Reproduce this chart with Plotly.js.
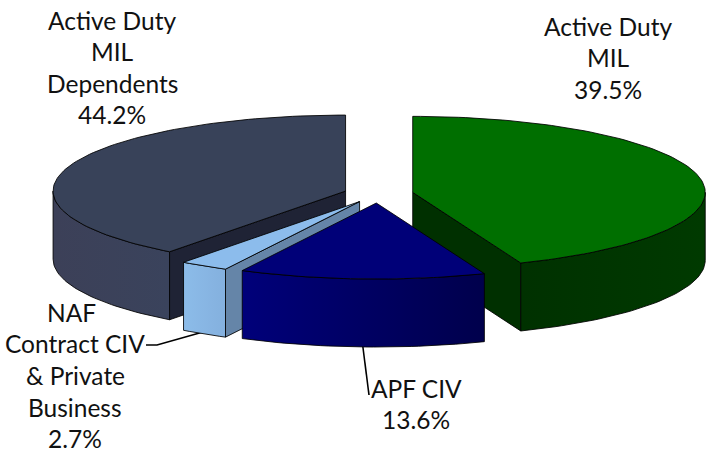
<!DOCTYPE html>
<html>
<head>
<meta charset="utf-8">
<script src="https://cdn.plot.ly/plotly-3.0.1.min.js"></script>
<style>html,body{margin:0;padding:0;background:#fff}</style>
</head>
<body>
<div id="chart" style="width:706px;height:452px"></div>
<script>
var sliceNames = ["green", "navy", "naf", "dependents"];
var sliceShares = [44.2, 13.6, 2.7, 39.5];

// Labels exactly as printed on the picture
var labelGreen = ["Active Duty", "MIL", "39.5%"];
var labelNavy = ["APF CIV", "13.6%"];
var labelNaf = ["NAF", "Contract CIV", "& Private", "Business", "2.7%"];
var labelDependents = ["Active Duty", "MIL", "Dependents", "44.2%"];

// Geometry and style (not data)
var geo = {cx: 378.5, cy: 194, rx: 292.5, ry: 76, depth: 68, explode: 0.119, trim: -0.8};
var topColors = ["#006f00", "#000078", "#8cbcec", "#384259"];
var radialColors = ["#003000", null, "#6585a8", "#1f2335"];
var wallColors = [["#003100", "#003a00"], ["#00007a", "#00004c"], ["#8cbce9", "#84b0de"], ["#3c4058", "#3a435c"]];
var edge = "rgba(0,0,0,0.85)";

var rad = function (d) { return d * Math.PI / 180; };
function pt(apex, deg, drop) {
  return [apex[0] + geo.rx * Math.sin(rad(deg)), apex[1] - geo.ry * Math.cos(rad(deg)) + (drop || 0)];
}
function arc(apex, from, to, drop) {
  var n = Math.max(2, Math.ceil(Math.abs(to - from) / 1.5)), out = [];
  for (var i = 0; i <= n; i++) out.push(pt(apex, from + (to - from) * i / n, drop));
  return out;
}
function poly(points, color, gradient) {
  var xs = points.map(function (p) { return p[0]; }), ys = points.map(function (p) { return p[1]; });
  xs.push(xs[0]); ys.push(ys[0]);
  var t = {type: "scatter", mode: "lines", x: xs, y: ys, fill: "toself",
    line: {color: edge, width: 1}, hoverinfo: "skip", showlegend: false};
  if (gradient) {
    t.fillgradient = {type: "horizontal", colorscale: [[0, gradient[0]], [1, gradient[1]]]};
  } else {
    t.fillcolor = color;
  }
  return t;
}

// Build slices from the shares
var slices = [], running = 0, total = sliceShares.reduce(function (a, b) { return a + b; }, 0);
sliceShares.forEach(function (share, i) {
  var start = running / total * 360, end = (running + share) / total * 360, mid = (start + end) / 2;
  running += share;
  slices.push({
    i: i,
    start: i === 0 ? start : start + geo.trim,
    end: i === sliceShares.length - 1 ? end : end + geo.trim,
    apex: [geo.cx + geo.rx * geo.explode * Math.sin(rad(mid)), geo.cy - geo.ry * geo.explode * Math.cos(rad(mid))]
  });
});

function radialFace(s, deg) {
  var a = s.apex, d = geo.depth, c = pt(a, deg);
  return poly([a, c, [c[0], c[1] + d], [a[0], a[1] + d]], radialColors[s.i]);
}
function sliceTraces(s) {
  var out = [], a = s.apex, d = geo.depth;
  // radial face looking towards the viewer
  if (s.i === 0) out.push(radialFace(s, s.end));
  if (s.i === 2 || s.i === 3) out.push(radialFace(s, s.start));
  // outer wall, front half only
  var from = Math.max(s.start, 90), to = Math.min(s.end, 270);
  if (to > from) {
    var wall = arc(a, from, to, 0).concat(arc(a, to, from, d));
    out.push(poly(wall, null, wallColors[s.i]));
  }
  // top face
  out.push(poly([a].concat(arc(a, s.start, s.end, 0)), topColors[s.i]));
  return out;
}

var traces = [];
[3, 0].forEach(function (i) { traces = traces.concat(sliceTraces(slices[i])); });

// Leader lines
function leader(xs, ys) {
  return {type: "scatter", mode: "lines", x: xs, y: ys, line: {color: "#000", width: 1.6},
    hoverinfo: "skip", showlegend: false};
}
traces.push(leader([146, 157, 203], [345, 345, 332]));
traces.push(leader([362, 369], [340, 395]));

[2, 1].forEach(function (i) { traces = traces.concat(sliceTraces(slices[i])); });

// Labels
var FONT = {family: "Lato, 'Open Sans', sans-serif", size: 24.5, color: "#111"};
function labelAnn(lines, xs, y0, step) {
  return lines.map(function (txt, k) {
    return {text: txt, x: Array.isArray(xs) ? xs[k] : xs, y: y0 + k * step, xref: "x", yref: "y",
      showarrow: false, xanchor: "center", yanchor: "middle", font: FONT};
  });
}
var anns = [].concat(
  labelAnn(labelDependents, 112, 20, 31.5),
  labelAnn(labelGreen, 608, 26, 31.5),
  labelAnn(labelNavy, 416, 388, 31.5),
  labelAnn(labelNaf, [71, 75, 75, 75, 75], 312, 31.7)
);

Plotly.newPlot("chart", traces, {
  width: 706, height: 452, autosize: false,
  margin: {l: 0, r: 0, t: 0, b: 0},
  paper_bgcolor: "#fff", plot_bgcolor: "#fff",
  xaxis: {range: [0, 706], visible: false, fixedrange: true},
  yaxis: {range: [452, 0], visible: false, fixedrange: true},
  annotations: anns, showlegend: false
}, {displayModeBar: false, staticPlot: true});
</script>
</body>
</html>
